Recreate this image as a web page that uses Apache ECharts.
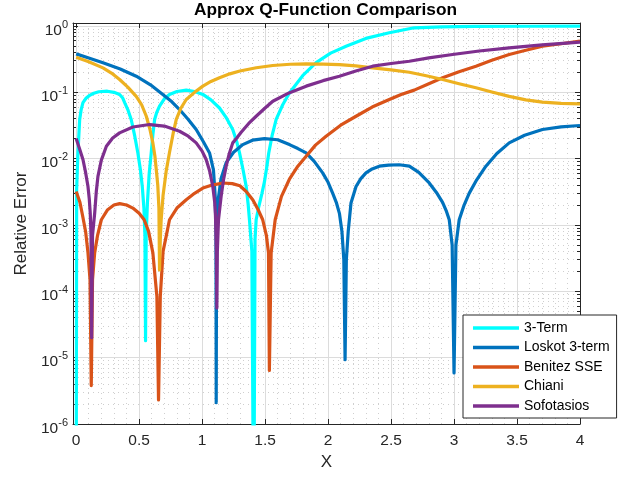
<!DOCTYPE html>
<html>
<head>
<meta charset="utf-8">
<script src="https://cdn.jsdelivr.net/npm/echarts@6/dist/echarts.min.js"></script>
<style>
  html, body { margin: 0; padding: 0; background: #fff; }
  #main { width: 632px; height: 481px; }
</style>
</head>
<body>
<div id="main"></div>
<script>
// series names
var seriesNames = ['3-Term', 'Loskot 3-term', 'Benitez SSE', 'Chiani', 'Sofotasios'];
var seriesColors = ['#00FFFF', '#0072BD', '#D95319', '#EDB120', '#7E2F8E'];

// [x, relative error]
var term3 = [
  [0, 1e-8], [0.004, 0.0035], [0.014, 0.0122], [0.028, 0.039], [0.04, 0.055], [0.054, 0.07],
  [0.08, 0.082], [0.107, 0.09], [0.14, 0.097], [0.18, 0.102], [0.247, 0.104], [0.3, 0.1],
  [0.345, 0.093], [0.37, 0.082], [0.385, 0.07], [0.41, 0.055], [0.437, 0.039], [0.465, 0.022],
  [0.49, 0.0122], [0.51, 0.0068], [0.525, 0.0038], [0.538, 0.0018], [0.546, 0.0007], [0.551, 1.8e-5],
  [0.556, 0.0007], [0.566, 0.0022], [0.58, 0.006], [0.596, 0.0122], [0.61, 0.024], [0.623, 0.039],
  [0.64, 0.05], [0.662, 0.062], [0.7, 0.08], [0.741, 0.093], [0.8, 0.103], [0.874, 0.108],
  [0.94, 0.103], [1.006, 0.093], [1.07, 0.077], [1.138, 0.058], [1.19, 0.042], [1.243, 0.0275],
  [1.275, 0.018], [1.297, 0.0122], [1.325, 0.0068], [1.35, 0.0038], [1.366, 0.002], [1.376, 0.0012],
  [1.395, 0.0004], [1.41, 1e-8], [1.42, 0.0006], [1.429, 0.0012], [1.45, 0.0019], [1.475, 0.003],
  [1.495, 0.0045], [1.515, 0.0078], [1.529, 0.0122], [1.555, 0.022], [1.588, 0.039], [1.64, 0.065],
  [1.693, 0.098], [1.8, 0.18], [1.905, 0.28], [2.02, 0.39], [2.143, 0.495], [2.3, 0.65],
  [2.486, 0.79], [2.684, 0.94], [2.9, 0.97], [3.17, 0.985], [3.6, 0.992], [4, 0.995]
];
var loskot = [
  [0, 0.38], [0.1, 0.33], [0.213, 0.279], [0.35, 0.225], [0.477, 0.175], [0.59, 0.13],
  [0.688, 0.093], [0.76, 0.072], [0.821, 0.055], [0.89, 0.039], [0.953, 0.0275], [1.01, 0.018],
  [1.059, 0.0122], [1.09, 0.0068], [1.104, 0.0027], [1.11, 0.0008], [1.112, 2.1e-6], [1.115, 0.0008],
  [1.125, 0.0022], [1.15, 0.005], [1.191, 0.0087], [1.25, 0.0125], [1.323, 0.0163], [1.4, 0.019],
  [1.495, 0.0201], [1.6, 0.0193], [1.693, 0.0163], [1.76, 0.0142], [1.826, 0.0122], [1.89, 0.0091],
  [1.957, 0.0061], [2.0, 0.0044], [2.037, 0.003], [2.065, 0.0022], [2.09, 0.0015], [2.11, 0.0008],
  [2.125, 0.0003], [2.135, 9.3e-6], [2.145, 0.0003], [2.16, 0.0008], [2.182, 0.00215], [2.222, 0.0038],
  [2.26, 0.005], [2.301, 0.0061], [2.35, 0.007], [2.407, 0.0077], [2.48, 0.008], [2.565, 0.0081],
  [2.645, 0.0077], [2.72, 0.0062], [2.803, 0.0043], [2.86, 0.0031], [2.909, 0.0022], [2.94, 0.0016],
  [2.962, 0.0012], [2.985, 0.0005], [3.0, 5.9e-6], [3.015, 0.0005], [3.041, 0.0012], [3.08, 0.002],
  [3.12, 0.003], [3.18, 0.0048], [3.253, 0.0077], [3.34, 0.012], [3.438, 0.0173], [3.56, 0.0225],
  [3.702, 0.0275], [3.85, 0.0302], [4, 0.0316]
];
var benitez = [
  [0, 0.0032], [0.03, 0.0022], [0.054, 0.0013], [0.075, 0.0008], [0.094, 0.00038], [0.11, 0.00015],
  [0.12, 3.8e-6], [0.13, 0.00015], [0.147, 0.00038], [0.17, 0.0007], [0.2, 0.0012], [0.25, 0.0017],
  [0.3, 0.002], [0.345, 0.0021], [0.4, 0.002], [0.45, 0.0018], [0.5, 0.0015], [0.54, 0.0012],
  [0.575, 0.0008], [0.609, 0.00038], [0.641, 8.4e-5], [0.654, 2.3e-6], [0.668, 8.4e-5], [0.69, 0.0004],
  [0.715, 0.00068], [0.741, 0.0012], [0.8, 0.0018], [0.874, 0.0024], [0.94, 0.003], [1.006, 0.0036],
  [1.08, 0.004], [1.164, 0.0043], [1.24, 0.0042], [1.3, 0.0039], [1.35, 0.0032], [1.402, 0.0024],
  [1.445, 0.0017], [1.481, 0.0012], [1.51, 0.0007], [1.527, 0.00038], [1.534, 6.4e-6], [1.548, 0.00038],
  [1.58, 0.0012], [1.63, 0.0027], [1.693, 0.0049], [1.76, 0.0077], [1.826, 0.0109], [1.9, 0.016],
  [1.984, 0.0218], [2.1, 0.032], [2.222, 0.0436], [2.35, 0.06], [2.486, 0.078], [2.58, 0.093],
  [2.684, 0.108], [2.8, 0.135], [2.909, 0.166], [3.04, 0.205], [3.174, 0.248], [3.3, 0.305],
  [3.438, 0.372], [3.57, 0.43], [3.702, 0.496], [3.85, 0.54], [4, 0.59]
];
var chiani = [
  [0, 0.338], [0.1, 0.29], [0.213, 0.234], [0.28, 0.195], [0.345, 0.156], [0.41, 0.12],
  [0.477, 0.087], [0.52, 0.065], [0.557, 0.0436], [0.585, 0.028], [0.609, 0.0173], [0.625, 0.011],
  [0.636, 0.0069], [0.648, 0.004], [0.657, 0.0018], [0.662, 0.00021], [0.668, 0.0006], [0.675, 0.0012],
  [0.69, 0.0028], [0.715, 0.0065], [0.741, 0.0124], [0.77, 0.024], [0.795, 0.039], [0.83, 0.057],
  [0.874, 0.078], [0.94, 0.1], [1.006, 0.124], [1.07, 0.146], [1.138, 0.166], [1.22, 0.19],
  [1.3, 0.21], [1.43, 0.235], [1.561, 0.254], [1.7, 0.265], [1.826, 0.269], [1.96, 0.267],
  [2.09, 0.262], [2.22, 0.25], [2.354, 0.234], [2.5, 0.218], [2.645, 0.201], [2.78, 0.178],
  [2.909, 0.156], [3.04, 0.135], [3.174, 0.117], [3.3, 0.101], [3.438, 0.087], [3.57, 0.077],
  [3.702, 0.071], [3.85, 0.068], [4, 0.067]
];
var sofotasios = [
  [0, 0.0201], [0.025, 0.0145], [0.054, 0.0097], [0.075, 0.0062], [0.094, 0.0038], [0.104, 0.0025],
  [0.112, 0.0015], [0.118, 0.0007], [0.123, 2e-5], [0.13, 0.0007], [0.147, 0.0015], [0.16, 0.0032],
  [0.173, 0.0054], [0.2, 0.0095], [0.24, 0.0154], [0.29, 0.0205], [0.345, 0.0245], [0.45, 0.03],
  [0.583, 0.0327], [0.7, 0.031], [0.821, 0.0259], [0.89, 0.0218], [0.953, 0.0173], [1.0, 0.013],
  [1.032, 0.0097], [1.06, 0.0065], [1.085, 0.0038], [1.1, 0.0022], [1.106, 0.0014], [1.113, 0.0004],
  [1.117, 5.6e-5], [1.121, 0.0004], [1.13, 0.0012], [1.151, 0.0027], [1.17, 0.0048], [1.191, 0.0077],
  [1.215, 0.0118], [1.243, 0.0173], [1.275, 0.0205], [1.31, 0.025], [1.37, 0.034], [1.429, 0.0436],
  [1.5, 0.058], [1.561, 0.0735], [1.69, 0.098], [1.826, 0.124], [1.96, 0.15], [2.09, 0.175],
  [2.22, 0.21], [2.354, 0.248], [2.5, 0.272], [2.645, 0.294], [2.8, 0.33], [2.988, 0.372],
  [3.2, 0.42], [3.438, 0.469], [3.7, 0.52], [4, 0.57]
];

// ticks
var xTicks = [0, 0.5, 1, 1.5, 2, 2.5, 3, 3.5, 4];
var xMinorTicks = [];
for (var i = 1; i < 40; i++) { if (i % 5) xMinorTicks.push(i / 10); }
var yTicks = [1e-6, 1e-5, 1e-4, 1e-3, 1e-2, 1e-1, 1];
var yMinorTicks = [];
yTicks.slice(0, 6).forEach(function (d) {
  for (var k = 2; k <= 9; k++) yMinorTicks.push(+(d * k).toPrecision(3));
});

var axisColor = '#262626';
var xMin = -0.025, xMax = 4, yMin = 1e-6, yMax = 1.11;

var myChart = echarts.init(document.getElementById('main'));

function xAx(extra) {
  return Object.assign({
    type: 'value', min: xMin, max: xMax,
    axisLine: { show: false, onZero: false },
    axisTick: { show: false },
    axisLabel: { show: false },
    splitLine: { show: false }
  }, extra);
}
function yAx(extra) {
  return Object.assign({
    type: 'log', logBase: 10, min: yMin, max: yMax,
    axisLine: { show: false, onZero: false },
    axisTick: { show: false },
    axisLabel: { show: false },
    splitLine: { show: false }
  }, extra);
}

myChart.setOption({
  animation: false,
  backgroundColor: '#fff',
  title: {
    text: 'Approx Q-Function Comparison',
    left: 194, top: 2, padding: 0,
    textStyle: { fontFamily: 'Liberation Sans', fontWeight: 'bold', fontSize: 17.3, color: '#000' }
  },
  grid: { left: 73, right: 52, top: 23, bottom: 57, containLabel: false },
  legend: {
    orient: 'vertical',
    left: 463, top: 315,
    padding: [6, 7, 5, 10],
    itemGap: 5.5,
    itemWidth: 46, itemHeight: 3.5,
    icon: 'rect',
    backgroundColor: '#fff',
    borderColor: axisColor, borderWidth: 1, borderRadius: 0,
    textStyle: { fontFamily: 'Liberation Sans', fontSize: 14, lineHeight: 14, color: '#000' },
    data: seriesNames
  },
  xAxis: [
    xAx({
      position: 'bottom',
      name: 'X', nameLocation: 'middle', nameGap: 30,
      nameTextStyle: { fontFamily: 'Liberation Sans', fontSize: 17, color: axisColor },
      axisLine: { show: true, onZero: false, lineStyle: { color: axisColor, width: 1 } },
      axisTick: { show: true, inside: true, length: 5, customValues: xTicks, lineStyle: { color: axisColor } },
      axisLabel: { show: true, customValues: xTicks, margin: 9, fontFamily: 'Liberation Sans', fontSize: 15.5, color: axisColor },
      splitLine: { show: true, lineStyle: { color: '#dcdcdc', width: 1 } }
    }),
    xAx({
      position: 'bottom',
      axisTick: { show: false, customValues: xMinorTicks },
      splitLine: { show: true, lineStyle: { color: '#cfcfcf', width: 1, type: [1, 4] } }
    }),
    xAx({
      position: 'top',
      axisLine: { show: true, onZero: false, lineStyle: { color: axisColor, width: 1 } },
      axisTick: { show: true, inside: true, length: 5, customValues: xTicks, lineStyle: { color: axisColor } }
    })
  ],
  yAxis: [
    yAx({
      position: 'left',
      name: 'Relative Error', nameLocation: 'middle', nameGap: 41,
      nameTextStyle: { fontFamily: 'Liberation Sans', fontSize: 17, color: axisColor },
      axisLine: { show: true, onZero: false, lineStyle: { color: axisColor, width: 1 } },
      axisTick: { show: true, inside: true, length: 5, customValues: yTicks, lineStyle: { color: axisColor } },
      axisLabel: {
        show: true, customValues: yTicks, margin: 5,
        formatter: function (v) { return '{b|10}{s|' + Math.round(Math.log10(v)) + '}'; },
        rich: {
          b: { fontFamily: 'Liberation Sans', fontSize: 15.5, lineHeight: 15, padding: [9, 0, 0, 0], color: axisColor },
          s: { fontFamily: 'Liberation Sans', fontSize: 11, lineHeight: 11, padding: [5, 0, 8, 0], color: axisColor }
        }
      },
      splitLine: { show: true, lineStyle: { color: '#dcdcdc', width: 1 } }
    }),
    yAx({
      position: 'left',
      axisTick: { show: true, inside: true, length: 3, customValues: yMinorTicks, lineStyle: { color: axisColor } },
      splitLine: { show: true, lineStyle: { color: '#cfcfcf', width: 1, type: [1, 4] } }
    }),
    yAx({
      position: 'right',
      axisLine: { show: true, onZero: false, lineStyle: { color: axisColor, width: 1 } },
      axisTick: { show: true, inside: true, length: 5, customValues: yTicks, lineStyle: { color: axisColor } }
    }),
    yAx({
      position: 'right',
      axisTick: { show: true, inside: true, length: 3, customValues: yMinorTicks, lineStyle: { color: axisColor } }
    })
  ],
  series: [term3, loskot, benitez, chiani, sofotasios].map(function (d, i) {
    return {
      name: seriesNames[i],
      type: 'line',
      xAxisIndex: 0, yAxisIndex: 0,
      data: d,
      showSymbol: false, symbol: 'none',
      smooth: false,
      clip: true,
      color: seriesColors[i],
      lineStyle: { color: seriesColors[i], width: 3.2, join: 'round', cap: 'butt' }
    };
  })
});
</script>
</body>
</html>
